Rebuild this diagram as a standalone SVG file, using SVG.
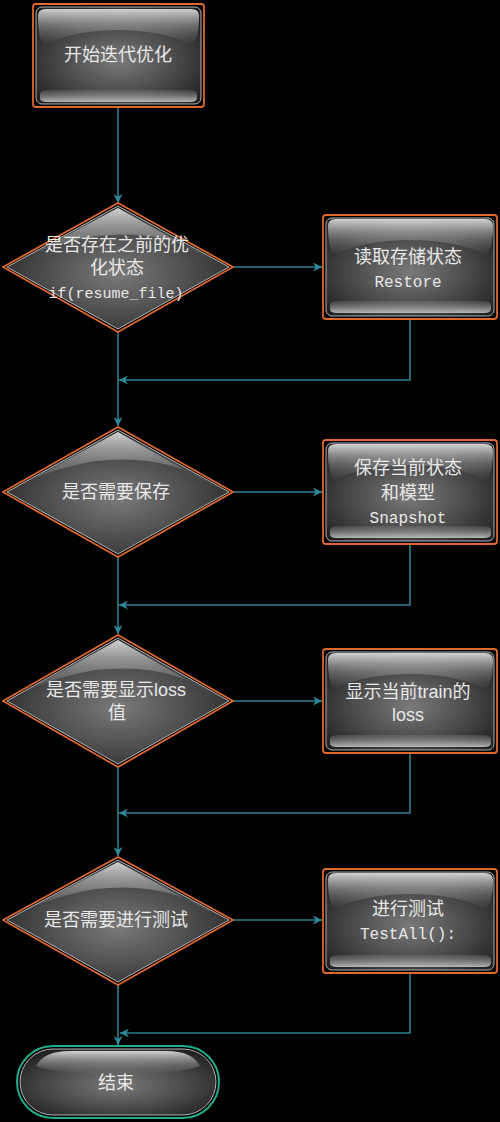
<svg xmlns="http://www.w3.org/2000/svg" width="500" height="1122" viewBox="0 0 500 1122">
<style>
.cn{font-family:"Liberation Sans","Noto Sans CJK SC",sans-serif;font-size:18px;fill:#e8e8e8;text-anchor:middle}
.mono{font-family:"Liberation Mono","Noto Sans CJK SC",monospace;font-size:16px;fill:#e8e8e8;text-anchor:middle}
.conn{fill:none;stroke:#2d7f8c;stroke-width:1.6}
.outer{fill:none;stroke:#e0682e;stroke-width:1.8}
.body{fill:url(#gBody);stroke:#d8d8d8;stroke-width:0.8}
.hi{fill:url(#gHi)}
.lo{fill:url(#gLo)}
</style>
<defs>
<radialGradient id="gBody" cx="0.5" cy="0.55" r="0.62">
<stop offset="0" stop-color="#7a7a7a"/>
<stop offset="0.6" stop-color="#474747"/>
<stop offset="1" stop-color="#222"/>
</radialGradient>
<linearGradient id="gHi" x1="0" y1="0" x2="0" y2="1">
<stop offset="0" stop-color="#f0f0f0" stop-opacity="0.85"/>
<stop offset="1" stop-color="#8a8a8a" stop-opacity="0.05"/>
</linearGradient>
<linearGradient id="gLo" x1="0" y1="0" x2="0" y2="1">
<stop offset="0" stop-color="#9a9a9a" stop-opacity="0.2"/>
<stop offset="1" stop-color="#d8d8d8" stop-opacity="0.8"/>
</linearGradient>
<marker id="arr" viewBox="0 0 10 10" refX="10" refY="5" markerWidth="9" markerHeight="9" markerUnits="userSpaceOnUse" orient="auto">
<path d="M0,0 L10,5 L0,10 L3,5 z" fill="#2d8a9a"/>
</marker>
</defs>
<rect width="500" height="1122" fill="#000"/>

<g id="connectors">
<path class="conn" d="M118,107 V203" marker-end="url(#arr)"/>
<path class="conn" d="M233,267 H322" marker-end="url(#arr)"/>
<path class="conn" d="M410,320 V380 H119" marker-end="url(#arr)"/>
<path class="conn" d="M118,332 V426" marker-end="url(#arr)"/>
<path class="conn" d="M233,492 H322" marker-end="url(#arr)"/>
<path class="conn" d="M410,545 V605 H119" marker-end="url(#arr)"/>
<path class="conn" d="M118,557 V634" marker-end="url(#arr)"/>
<path class="conn" d="M233,701 H322" marker-end="url(#arr)"/>
<path class="conn" d="M410,754 V813 H119" marker-end="url(#arr)"/>
<path class="conn" d="M118,767 V856" marker-end="url(#arr)"/>
<path class="conn" d="M233,920 H322" marker-end="url(#arr)"/>
<path class="conn" d="M410,974 V1033 H120" marker-end="url(#arr)"/>
<path class="conn" d="M118,985 V1045" marker-end="url(#arr)"/>
</g>

<g id="start">
<rect class="outer" x="33" y="4" width="171" height="103" rx="3"/>
<rect class="body" x="36" y="7" width="165" height="97" rx="6"/>
<path class="hi" d="M38,16 Q38,9 46,9 H191 Q199,9 199,16 Q199,44 190,44 Q160,30 118,30 Q76,30 46,44 Q38,44 38,16 z"/>
<path class="lo" d="M40,94 Q40,90 50,90 H188 Q197,90 197,94 V98 Q197,102 190,102 H47 Q40,102 40,98 z"/>
<text class="cn" x="118" y="61">开始迭代优化</text>
</g>

<g id="d1">
<path class="outer" d="M118,203 L233,267 L118,332 L3,267 z" stroke-linejoin="round"/>
<path class="body" d="M118,206 L229,267 L118,329 L7,267 z"/>
<path class="hi" d="M118,208 L215,262 Q170,228 95,236 Q60,242 30,255 z"/>
<text class="cn" x="117" y="251">是否存在之前的优</text>
<text class="cn" x="117" y="274">化状态</text>
<text class="mono" x="116" y="298" style="font-size:15px">if(resume_file)</text>
</g>

<g id="restore">
<rect class="outer" x="323" y="215" width="174" height="104" rx="3"/>
<rect class="body" x="326" y="218" width="168" height="98" rx="6"/>
<path class="hi" d="M328,226 Q328,219 336,219 H485 Q493,219 493,226 Q493,254 484,254 Q454,240 410,240 Q366,240 336,254 Q328,254 328,226 z"/>
<path class="lo" d="M330,305 Q330,301 340,301 H482 Q491,301 491,305 V309 Q491,313 484,313 H337 Q330,313 330,309 z"/>
<text class="cn" x="408" y="263">读取存储状态</text>
<text class="mono" x="408" y="287">Restore</text>
</g>

<g id="d2">
<path class="outer" d="M118,427 L233,492 L118,557 L3,492 z" stroke-linejoin="round"/>
<path class="body" d="M118,430 L229,492 L118,554 L7,492 z"/>
<path class="hi" d="M118,432 L215,487 Q170,453 95,461 Q60,467 30,480 z"/>
<text class="cn" x="116" y="498">是否需要保存</text>
</g>

<g id="snapshot">
<rect class="outer" x="323" y="440" width="174" height="104" rx="3"/>
<rect class="body" x="326" y="443" width="168" height="98" rx="6"/>
<path class="hi" d="M328,451 Q328,444 336,444 H485 Q493,444 493,451 Q493,479 484,479 Q454,465 410,465 Q366,465 336,479 Q328,479 328,451 z"/>
<path class="lo" d="M330,530 Q330,526 340,526 H482 Q491,526 491,530 V534 Q491,538 484,538 H337 Q330,538 330,534 z"/>
<text class="cn" x="408" y="474">保存当前状态</text>
<text class="cn" x="408" y="499">和模型</text>
<text class="mono" x="408" y="523">Snapshot</text>
</g>

<g id="d3">
<path class="outer" d="M118,635 L233,701 L118,767 L3,701 z" stroke-linejoin="round"/>
<path class="body" d="M118,638 L229,701 L118,764 L7,701 z"/>
<path class="hi" d="M118,640 L215,696 Q170,662 95,670 Q60,676 30,689 z"/>
<text class="cn" x="116" y="696">是否需要显示loss</text>
<text class="cn" x="117" y="719">值</text>
</g>

<g id="showloss">
<rect class="outer" x="323" y="649" width="174" height="104" rx="3"/>
<rect class="body" x="326" y="652" width="168" height="98" rx="6"/>
<path class="hi" d="M328,660 Q328,653 336,653 H485 Q493,653 493,660 Q493,688 484,688 Q454,674 410,674 Q366,674 336,688 Q328,688 328,660 z"/>
<path class="lo" d="M330,739 Q330,735 340,735 H482 Q491,735 491,739 V743 Q491,747 484,747 H337 Q330,747 330,743 z"/>
<text class="cn" x="408" y="698">显示当前train的</text>
<text class="cn" x="408" y="721">loss</text>
</g>

<g id="d4">
<path class="outer" d="M118,857 L233,920 L118,985 L3,920 z" stroke-linejoin="round"/>
<path class="body" d="M118,860 L229,920 L118,982 L7,920 z"/>
<path class="hi" d="M118,862 L215,915 Q170,881 95,889 Q60,895 30,908 z"/>
<text class="cn" x="116" y="926">是否需要进行测试</text>
</g>

<g id="test">
<rect class="outer" x="323" y="869" width="174" height="104" rx="3"/>
<rect class="body" x="326" y="872" width="168" height="98" rx="6"/>
<path class="hi" d="M328,880 Q328,873 336,873 H485 Q493,873 493,880 Q493,908 484,908 Q454,894 410,894 Q366,894 336,908 Q328,908 328,880 z"/>
<path class="lo" d="M330,959 Q330,955 340,955 H482 Q491,955 491,959 V963 Q491,967 484,967 H337 Q330,967 330,963 z"/>
<text class="cn" x="408" y="915">进行测试</text>
<text class="mono" x="408" y="939">TestAll():</text>
</g>

<g id="end">
<rect x="17" y="1046" width="202" height="72" rx="36" fill="none" stroke="#1fae88" stroke-width="2"/>
<rect class="body" x="20" y="1049" width="196" height="66" rx="33"/>
<path class="hi" d="M36,1066 Q44,1051 70,1051 H166 Q192,1051 200,1066 Q180,1074 118,1074 Q56,1074 36,1066 z"/>
<text class="cn" x="116" y="1089">结束</text>
</g>
</svg>
